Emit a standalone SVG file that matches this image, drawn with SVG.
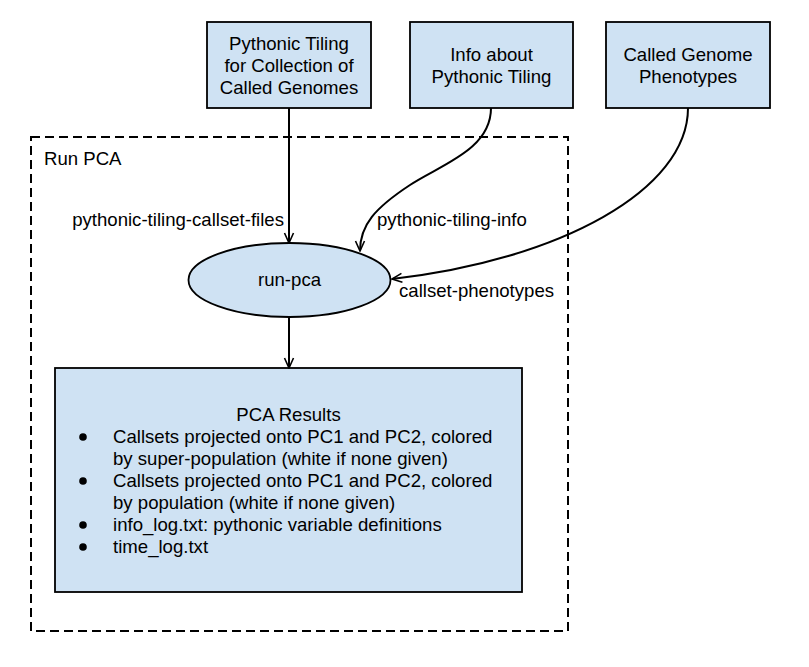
<svg xmlns="http://www.w3.org/2000/svg" width="809" height="667" viewBox="0 0 809 667">
<defs>
<marker id="arr" viewBox="0 0 12 12" refX="11" refY="6" markerWidth="12" markerHeight="12" markerUnits="userSpaceOnUse" orient="auto">
<path d="M1,1.5 L11,6 L1,10.5" fill="none" stroke="#000" stroke-width="1.6"/>
</marker>
</defs>
<style>
text{font-family:"Liberation Sans",Arial,sans-serif;font-size:18.6px;fill:#000}
.c{text-anchor:middle}
.box{fill:#cfe2f3;stroke:#000;stroke-width:1.8}
.edge{fill:none;stroke:#000;stroke-width:2;marker-end:url(#arr)}
</style>
<rect width="809" height="667" fill="#fff"/>
<g id="cluster-run-pca">
<rect x="31" y="137" width="537" height="494" fill="none" stroke="#000" stroke-width="2" stroke-dasharray="9,5"/>
<text x="44" y="165">Run PCA</text>
</g>
<g id="node-tiling">
<rect class="box" x="207" y="22" width="164" height="86"/>
<text class="c" x="289" y="49.5">Pythonic Tiling</text>
<text class="c" x="289" y="71.5">for Collection of</text>
<text class="c" x="289" y="93.5">Called Genomes</text>
</g>
<g id="node-info">
<rect class="box" x="410" y="22" width="163" height="86"/>
<text class="c" x="491.5" y="61">Info about</text>
<text class="c" x="491.5" y="83">Pythonic Tiling</text>
</g>
<g id="node-phenotypes">
<rect class="box" x="606" y="22" width="164" height="86"/>
<text class="c" x="688" y="61">Called Genome</text>
<text class="c" x="688" y="83">Phenotypes</text>
</g>
<g id="node-run-pca">
<ellipse class="box" cx="289.5" cy="280" rx="101" ry="37"/>
<text class="c" x="289.5" y="286">run-pca</text>
</g>
<g id="node-results">
<rect class="box" x="55" y="368" width="467" height="224"/>
<text class="c" x="288.5" y="421">PCA Results</text>
<circle cx="83" cy="437" r="3.8" fill="#000"/>
<circle cx="83" cy="481" r="3.8" fill="#000"/>
<circle cx="83" cy="525" r="3.8" fill="#000"/>
<circle cx="83" cy="547" r="3.8" fill="#000"/>
<text x="113" y="443">Callsets projected onto PC1 and PC2, colored</text>
<text x="113" y="465">by super-population (white if none given)</text>
<text x="113" y="487">Callsets projected onto PC1 and PC2, colored</text>
<text x="113" y="509">by population (white if none given)</text>
<text x="113" y="531">info_log.txt: pythonic variable definitions</text>
<text x="113" y="553">time_log.txt</text>
</g>
<g id="connectors">
<path class="edge" d="M289,108 L289,243"/>
<path class="edge" d="M491,108 C491,150 440,165 410,185 C375,208 360,225 360,251"/>
<path class="edge" d="M688,108 C688,190 560,260 392,279"/>
<path class="edge" d="M289,317 L289,368"/>
<text x="284" y="226" text-anchor="end">pythonic-tiling-callset-files</text>
<text x="377" y="226">pythonic-tiling-info</text>
<text x="399" y="297">callset-phenotypes</text>
</g>
</svg>
